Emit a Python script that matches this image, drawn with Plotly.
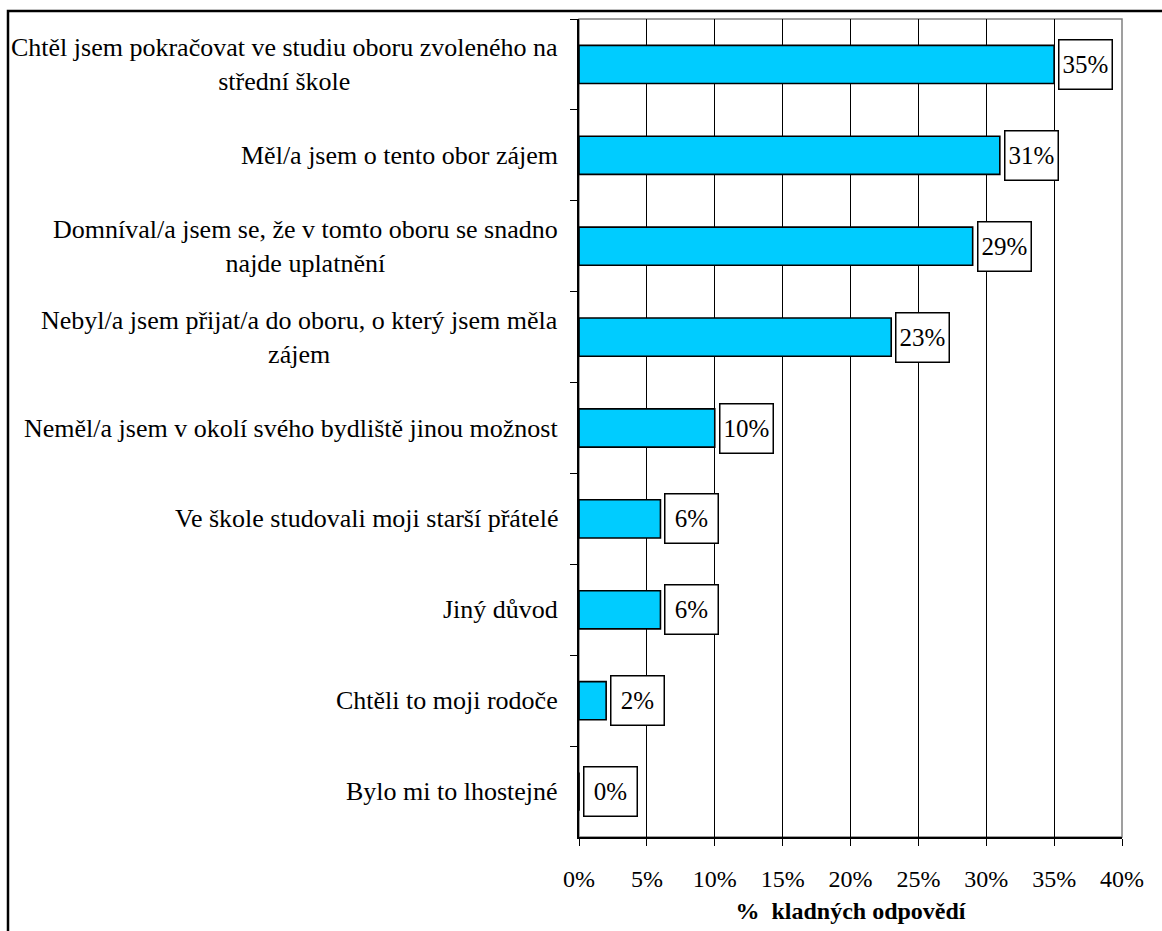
import plotly.graph_objects as go

categories = [
    "Chtěl jsem pokračovat ve studiu oboru zvoleného na<br>střední škole",
    "Měl/a jsem o tento obor zájem",
    "Domníval/a jsem se, že v tomto oboru se snadno<br>najde uplatnění",
    "Nebyl/a jsem přijat/a do oboru, o který jsem měla<br>zájem",
    "Neměl/a jsem v okolí svého bydliště jinou možnost",
    "Ve škole studovali moji starší přátelé",
    "Jiný důvod",
    "Chtěli to moji rodoče",
    "Bylo mi to lhostejné",
]
values = [35, 31, 29, 23, 10, 6, 6, 2, 0]
x_ticks = [0, 5, 10, 15, 20, 25, 30, 35, 40]
x_ticktext = ["0%", "5%", "10%", "15%", "20%", "25%", "30%", "35%", "40%"]
x_title = "%  kladných odpovědí"

FONT = "Liberation Serif"

fig = go.Figure()
fig.add_trace(go.Bar(
    x=values, y=categories, orientation="h",
    marker=dict(color="#00CCFF", line=dict(color="black", width=1.6)),
    hoverinfo="skip",
))

annotations = []
for c, v in zip(categories, values):
    annotations.append(dict(
        x=v, y=c, xref="x", yref="y", xanchor="left", yanchor="middle",
        xshift=4, text=f"{v}%", showarrow=False,
        font=dict(family=FONT, size=25, color="black"),
        bgcolor="white", bordercolor="black", borderwidth=1.5,
        borderpad=1, width=50, height=46,
    ))
    annotations.append(dict(
        x=0, y=c, xref="paper", yref="y", xanchor="right", yanchor="middle",
        xshift=-19, text=c, showarrow=False, align="center",
        font=dict(family=FONT, size=26, color="black"),
    ))

shapes = [
    dict(type="rect", xref="paper", yref="paper", x0=0, y0=0, x1=1, y1=1,
         line=dict(color="#808080", width=1.5), layer="below"),
    dict(type="rect", xref="paper", yref="paper",
         x0=(8 - 579) / 543, x1=(1175 - 579) / 543,
         y0=(837 - 945) / 818, y1=(837 - 11) / 818,
         line=dict(color="black", width=2.5), layer="above"),
]

fig.update_layout(
    width=1162, height=931,
    margin=dict(l=579, r=40, t=19, b=94, pad=0),
    paper_bgcolor="white", plot_bgcolor="white",
    showlegend=False, bargap=0.58,
    font=dict(family=FONT, color="black"),
    annotations=annotations, shapes=shapes,
)
fig.update_xaxes(
    range=[0, 40], tickmode="array", tickvals=x_ticks, ticktext=x_ticktext,
    showgrid=True, gridcolor="black", gridwidth=1,
    showline=True, linecolor="black", linewidth=1.5,
    ticks="outside", ticklen=7, tickcolor="black", tickwidth=1,
    tickfont=dict(family=FONT, size=24, color="black"),
    ticklabelstandoff=12,
    zeroline=False,
    title=dict(text=f"<b>{x_title}</b>", standoff=12,
               font=dict(family=FONT, size=24, color="black")),
)
fig.update_yaxes(
    autorange="reversed", showticklabels=False,
    showgrid=False, showline=True, linecolor="black", linewidth=1.5,
    ticks="outside", ticklen=7, tickcolor="black", tickwidth=1,
    tickson="boundaries",
)

fig.write_html("out.html", config={"displayModeBar": False},
               post_script="document.body.style.margin='0px';")
